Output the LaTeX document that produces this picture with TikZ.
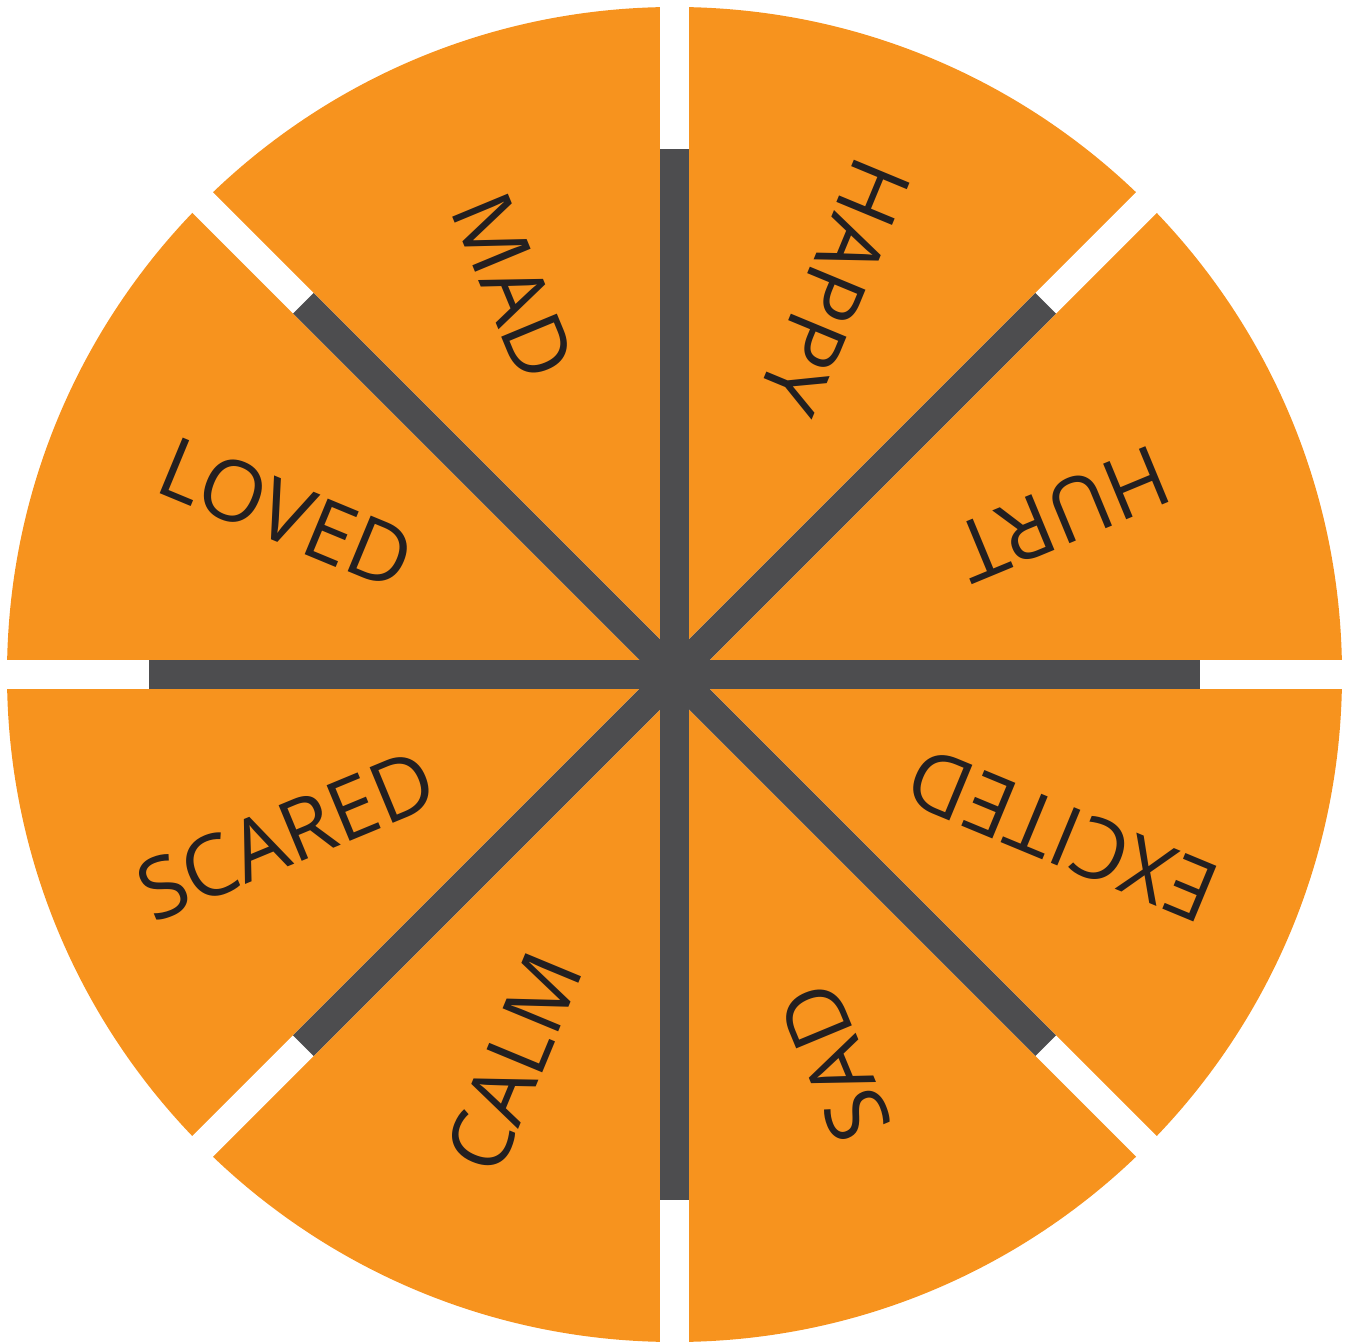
\documentclass[tikz,border=0pt]{standalone}
\usepackage{fontspec}
\setmainfont{Open Sans}

\definecolor{wheelorange}{HTML}{F7931E}
\definecolor{spokegray}{HTML}{4D4D4F}
\definecolor{inkdark}{HTML}{231F20}

\begin{document}
\begin{tikzpicture}[
  feel/.style={font=\fontsize{24}{24}\selectfont,text=inkdark,inner sep=0pt},
  cut/.style={draw=white,line width=2.9mm},
  spoke/.style={draw=spokegray,line width=2.9mm}]
\useasboundingbox (-6.745,-6.685) rectangle (6.745,6.745);
% --- wheel and the white cuts between the slices ---
\coordinate (c) at (0,0);
\fill[wheelorange] (c) circle (6.675);
\foreach \a in {0,45,...,315} {
  \coordinate (rim\a) at (\a:7.2);
  \coordinate (tip\a) at (\a:5.25);
  \draw[cut] (c) -- (rim\a);
}
% --- dark spokes ---
\foreach \a in {0,45,...,315} \draw[spoke] (c) -- (tip\a);
% --- feelings, read from the rim inwards ---
\foreach \name/\a in {HAPPY/67.5,HURT/22.5,EXCITED/-22.5,SAD/-67.5,
                      CALM/-112.5,SCARED/-157.5,LOVED/157.5,MAD/112.5}
  \node[feel,rotate=\a+180] (\name) at (\a:4.2) {\name};
\end{tikzpicture}
\end{document}
